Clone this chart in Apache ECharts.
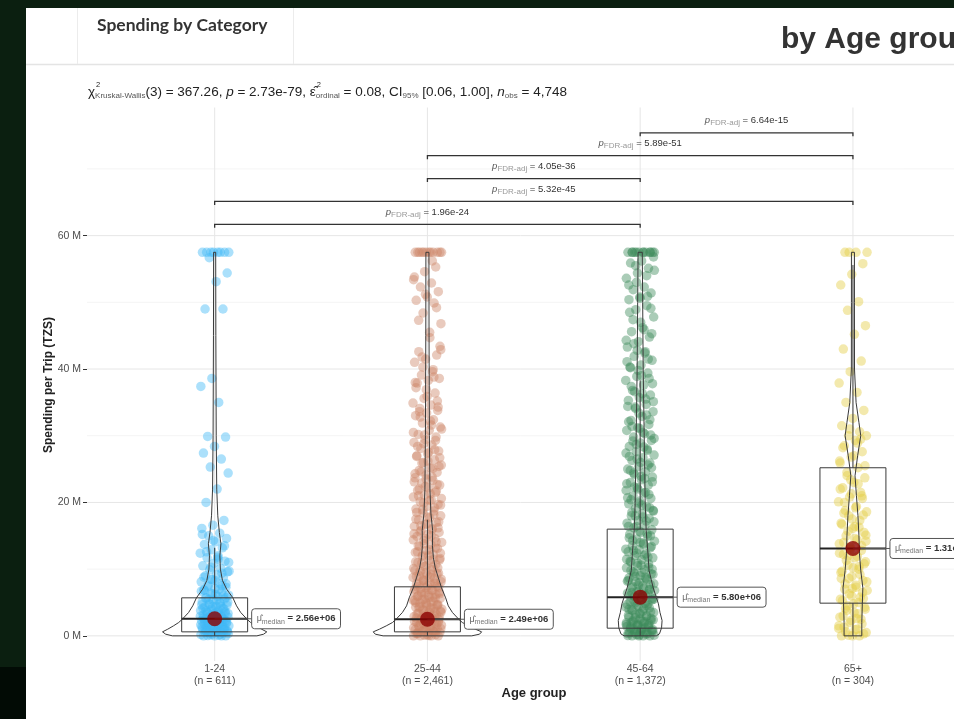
<!DOCTYPE html>
<html>
<head>
<meta charset="utf-8">
<title>Spending per Trip by Age group</title>
<script src="https://cdn.jsdelivr.net/npm/echarts@6/dist/echarts.min.js"></script>
<style>
  html, body { margin: 0; padding: 0; background: #0b1f10; }
  #chart { width: 954px; height: 719px; }
</style>
</head>
<body>
<div id="chart"></div>
<script>
// ---------------- data (spending values in millions of TZS) ----------------
const ageGroups = ['1-24', '25-44', '45-64', '65+'];
const groupCounts = ['611', '2,461', '1,372', '304'];

const medianSpend = [2.56, 2.49, 5.80, 13.1];
const lowerQuartile = [0.6, 0.6, 1.15, 4.9];
const upperQuartile = [5.7, 7.35, 16.0, 25.2];
const lowerWhisker = [0, 0, 0, 0];
const upperWhisker = [13.2, 17.4, 38.3, 55.6];

const spend1to24 = [57.5,57.5,57.5,57.5,57.5,57.5,57.5,57.5,56.7,54.4,53.1,49.0,49.0,38.6,37.4,35.0,29.9,29.8,28.4,27.4,26.5,25.3,24.4,22.0,20.0,17.3,16.6,16.1,15.4,15.0,14.6,14.1,13.7,13.2,12.9,12.4,12.0,11.7,11.2,10.9,10.5,10.1,9.9,9.6,9.2,9.0,8.7,8.4,8.1,7.9,7.6,7.3,7.1,6.9,6.6,6.4,6.1,5.9,5.7,5.5,5.3,5.1,4.9,4.8,4.6,4.4,4.3,4.1,4.0,3.8,3.7,3.5,3.4,3.3,3.1,3.0,2.9,2.8,2.7,2.6,2.5,2.4,2.3,2.2,2.1,2.0,1.9,1.8,1.7,1.6,1.5,1.4,1.3,1.2,1.1,1.0,0.9,0.8,0.7,0.6,0.5,0.4,0.3,0.2,0.1,0.05,0,0,0,0,
  0.15,0.35,0.55,0.75,0.95,1.15,1.35,1.55,1.75,1.95,2.15,2.35,2.55,2.75,2.95,3.2,3.45,3.65,3.9,4.15,4.45,4.75,5.05,5.35,5.65,6.0,6.3,6.7,7.0,7.4,7.8,8.3,8.8,9.4,10.3,11.0,11.8,12.6,13.5,14.3,15.2,
  0.25,0.45,0.65,0.85,1.05,1.25,1.45,1.65,1.85,2.05,2.25,2.45,2.65,2.85,3.05,3.35,3.55,3.75,4.05,4.35,4.65,5.0,5.45,5.8,6.2,6.8,7.5,8.5,9.7,11.5];
const spend25to44 = [57.5,57.5,57.5,57.5,57.5,57.5,57.5,57.5,57.5,57.5,57.5,57.5,55.3,54.6,53.4,52.9,52.3,51.6,50.8,50.3,49.9,48.4,46.8,44.7,42.6,42.1,41.5,41.0,39.6,39.1,38.6,38.3,37.9,36.4,35.6,34.9,34.6,34.1,33.8,33.4,33.0,32.4,31.9,31.3,30.8,30.2,29.8,29.4,29.0,28.6,28.1,27.7,27.3,26.9,26.4,26.0,25.6,25.2,24.8,24.5,24.1,23.7,23.3,22.9,22.6,22.2,21.8,21.5,21.1,20.8,20.4,20.1,19.7,19.4,19.0,18.7,18.4,18.0,17.7,17.4,17.0,16.7,16.4,16.1,15.8,15.5,15.2,14.9,14.6,14.3,14.0,13.7,13.4,13.1,12.8,12.5,12.2,11.9,11.6,11.3,11.0,10.7,10.4,10.1,9.9,9.6,9.4,9.1,8.9,8.6,8.4,8.1,7.9,7.7,7.4,7.2,7.0,6.8,6.5,6.3,6.1,5.9,5.7,5.5,5.3,5.1,4.9,4.7,4.5,4.3,4.1,3.9,3.7,3.5,3.4,3.2,3.0,2.9,2.7,2.5,2.4,2.2,2.0,1.9,1.7,1.6,1.4,1.3,1.1,1.0,0.9,0.7,0.6,0.5,0.4,0.3,0.2,0.1,0,0,0,0,
  0.15,0.35,0.55,0.8,1.05,1.25,1.5,1.75,1.95,2.15,2.35,2.6,2.8,3.1,3.3,3.6,3.8,4.0,4.2,4.4,4.6,4.8,5.0,5.2,5.4,5.6,5.8,6.0,6.2,6.4,6.6,6.9,7.1,7.3,7.5,7.8,8.0,8.3,8.5,8.8,9.0,9.3,9.5,9.8,
  10.3,10.9,11.4,12.0,12.6,13.2,13.8,14.4,15.0,15.6,16.2,16.8,17.5,18.2,18.9,19.6,20.3,21.0,21.7,22.4,23.1,23.8,24.6,25.4,26.2,27.0,27.9,28.8,
  31.0,32.2,33.6,35.2,36.9,38.0,39.9,41.8,43.4,
  0.05,0.45,0.65,0.95,1.2,1.45,1.85,2.05,2.45,2.65,2.95,3.25,3.55,3.85,4.25,4.55,4.95,5.35,5.75,6.15,6.55,6.95,7.35,7.85,8.25,8.75,9.25,9.75,10.2,10.6,11.1,11.5,12.1,12.4,12.9,13.5,14.1,14.6,15.3,15.9,16.5,17.1,17.8,18.5,19.2,19.9,20.6,21.3,22.0,22.7,23.5,24.3,25.1,25.9,26.7,27.5,28.4,29.3,30.1,30.5,31.6,32.8,34.3,35.9,37.2,38.8,40.3,42.9,45.5,47.3,49.2,51.2,53.8,56.2];
const spend45to64 = [57.5,57.5,57.5,57.5,57.5,57.5,57.5,57.5,57.5,57.5,56.2,55.9,55.1,54.4,53.6,52.3,51.9,51.4,50.6,50.4,49.5,48.9,47.8,46.2,45.6,44.8,44.1,43.3,42.6,41.9,41.3,40.6,40.3,39.4,38.9,38.3,37.6,36.8,36.1,35.7,35.3,34.7,34.3,33.6,32.9,32.3,31.7,31.2,30.8,30.3,29.8,29.3,28.9,28.4,28.0,27.6,27.1,26.7,26.3,25.9,25.4,25.0,24.6,24.2,23.8,23.4,23.0,22.6,22.2,21.8,21.4,21.0,20.6,20.2,19.8,19.4,19.1,18.7,18.3,18.0,17.6,17.3,16.9,16.6,16.2,15.9,15.5,15.2,14.9,14.5,14.2,13.9,13.5,13.2,12.9,12.6,12.3,12.0,11.7,11.4,11.1,10.8,10.5,10.2,9.9,9.6,9.3,9.0,8.7,8.4,8.1,7.8,7.5,7.2,6.9,6.7,6.4,6.1,5.9,5.6,5.3,5.1,4.8,4.6,4.3,4.1,3.8,3.6,3.3,3.1,2.9,2.7,2.4,2.2,2.0,1.8,1.6,1.4,1.2,1.0,0.8,0.6,0.5,0.3,0.2,0.1,0,0,0,0,
  0.05,0.25,0.45,0.7,0.9,1.1,1.3,1.5,1.7,1.9,2.1,2.3,2.5,2.8,3.0,3.2,3.5,3.7,3.9,4.2,4.4,4.7,4.9,5.2,5.4,5.7,6.0,6.3,6.6,6.8,7.1,7.4,7.7,8.0,8.3,8.6,8.9,9.2,9.5,9.8,10.3,10.9,11.5,12.1,12.8,13.4,14.0,14.7,15.3,
  16.4,17.1,17.8,18.5,19.2,19.9,20.7,21.5,22.3,23.1,23.9,24.8,25.6,26.5,27.4,28.3,29.2,30.1,31.1,32.1,33.1,34.1,35.1,36.3,37.4,38.6,39.8,41.1,42.4,43.8,45.3,47.0,48.5,50.9,53.0,54.8,57.5,57.5,57.5,
  0.15,0.35,0.55,0.75,0.95,1.15,1.35,1.55,1.75,1.95,2.15,2.35,2.6,3.4,4.0,4.5,5.0,5.5,6.2,6.5,7.0,7.6,8.2,8.8,9.4,10.0,10.6,11.2,11.8,12.4,13.0,13.7,14.3,15.0,15.7,16.4,17.2,18.0,18.8,19.6,20.4,21.2,22.0,22.8,23.6,24.4,25.2,26.0,26.9,27.8,28.7,29.6,30.5,31.4,32.4,33.4,34.4,35.5,36.6,37.8,39.0,40.2,41.5,42.8,44.3,45.9,47.4,49.1,50.8,52.6,54.0,55.5,56.8];
const spend65plus = [57.5,57.5,57.5,57.5,55.8,54.2,52.6,50.1,48.8,46.5,45.2,43.0,41.2,39.6,37.9,36.5,35.0,33.8,32.6,31.5,30.6,30.0,30.0,29.3,28.5,27.6,26.8,25.9,25.2,24.5,23.7,23.0,22.2,21.5,20.8,20.1,19.4,18.8,18.1,17.5,16.9,16.3,15.7,15.1,14.6,14.0,13.5,13.0,12.4,11.9,11.3,10.8,10.2,9.7,9.2,8.6,8.1,7.6,7.0,6.5,6.0,5.5,5.0,4.5,4.0,3.5,3.0,2.5,2.0,1.5,1.0,0.6,0.3,0,0,0,
  0.1,0.5,0.9,1.3,1.8,2.3,2.8,3.3,3.8,4.3,4.8,5.3,5.8,6.3,6.8,7.3,7.8,8.3,8.9,9.5,10.0,10.6,11.1,11.7,12.2,12.8,13.3,13.8,14.4,15.0,15.5,16.1,16.7,17.3,18.0,18.6,19.2,20.0,20.6,21.3,22.0,22.8,24.0,25.5,27.0,28.2,29.5,31.0,
  1.1,2.6,4.1,5.6,7.1,8.6,10.4,12.0,14.2,16.4,18.4,21.0,23.4,26.2,28.9];
const groupSpend = [spend1to24, spend25to44, spend45to64, spend65plus];

// kernel density outline per group: [spend, relative density]
const density1to24 = [[0,0.81],[0.25,0.94],[0.6,1.0],[1.0,0.9],[1.5,0.79],[2.0,0.69],[2.5,0.62],[3.5,0.5],[4.5,0.42],[5.7,0.35],[7,0.23],[8.3,0.15],[10,0.11],[12,0.1],[13.8,0.12],[15.5,0.09],[18,0.06],[22,0.04],[30,0.03],[45,0.023],[57.5,0.02]];
const density25to44 = [[0,0.85],[0.25,1.0],[0.6,1.04],[1.0,0.92],[1.5,0.79],[2.0,0.67],[2.5,0.6],[3.5,0.48],[4.5,0.4],[5.7,0.35],[7.2,0.27],[8.7,0.21],[10.2,0.15],[11.7,0.115],[13.5,0.096],[15.8,0.1],[18.3,0.067],[22,0.048],[30,0.038],[45,0.031],[57.5,0.029]];
const density45to64 = [[0,0.31],[0.3,0.37],[1.2,0.41],[2.3,0.42],[3.5,0.38],[4.8,0.35],[6,0.3],[7.2,0.25],[8.5,0.21],[9.8,0.17],[12.3,0.15],[15.8,0.115],[20,0.096],[25,0.087],[30,0.077],[40,0.058],[50,0.048],[57.5,0.04]];
const density65plus = [[0,0.17],[2,0.17],[4.8,0.18],[7.2,0.19],[9.8,0.15],[12.3,0.125],[15,0.115],[18,0.096],[21,0.067],[24,0.04],[27,0.09],[30,0.15],[32,0.115],[35,0.06],[40,0.03],[50,0.029],[57.5,0.029]];
const groupDensity = [density1to24, density25to44, density45to64, density65plus];

// Kruskal-Wallis summary
const kwStatistic = '367.26';
const kwDf = '3';
const kwP = '2.73e-79';
const epsilonSq = '0.08';
const epsilonCI = '[0.06, 1.00]';
const nObs = '4,748';

// Dunn pairwise comparisons (FDR adjusted)
const pairwiseGroups = [[0, 2], [0, 3], [1, 2], [1, 3], [2, 3]];
const pairwiseP = ['1.96e-24', '5.32e-45', '4.05e-36', '5.89e-51', '6.64e-15'];

// ---------------- styling ----------------
const FONT = '"Liberation Sans", Arial, sans-serif';
const pointColors = ['rgba(63,184,245,0.55)', 'rgba(204,134,104,0.55)', 'rgba(61,138,90,0.55)', 'rgba(227,204,69,0.55)'];
const JITTER = 0.068;        // half-width of point jitter (x units)
const BOX_HALF = 0.155;      // half-width of boxes (x units)
const VIOLIN_SCALE = 0.245;  // x units for relative density 1
const bracketBase = 61.7, bracketStep = 3.43;

const mctx = document.createElement('canvas').getContext('2d');
function fontStr(p) {
  return (p.italic ? 'italic ' : '') + (p.bold ? 'bold ' : '') + p.size + 'px ' + FONT;
}
function pieceWidth(p) { mctx.font = fontStr(p); return mctx.measureText(p.t).width; }
function runWidth(pieces) { return pieces.reduce((s, p) => s + (p.noAdvance ? 0 : pieceWidth(p)), 0); }
// lays text pieces (with sub/superscripts) left to right along a middle line
function runPieces(pieces, x0, y0, color) {
  let x = x0;
  const children = [];
  pieces.forEach(p => {
    children.push({
      type: 'text', x: x + (p.dx || 0), y: y0 + (p.dy || 0), silent: true,
      style: { text: p.t, font: fontStr(p), fill: p.color || color,
               textAlign: 'left', align: 'left', textVerticalAlign: 'middle', verticalAlign: 'middle' }
    });
    if (!p.noAdvance) x += pieceWidth(p);
  });
  return { children, width: x - x0 };
}
function sci(v) {
  return v.toExponential(2).replace(/e([+-])(\d)$/, 'e$10$2');
}
function jitter(i) {
  return (((i * 0.6180339887 + 0.37) % 1) * 2 - 1) * JITTER;
}

// ---------------- series renderers ----------------
function renderGridLines(params, api) {
  const cs = params.coordSys;
  const children = [];
  for (let v = 0; v <= 70; v += 10) {
    const y = api.coord([1, v])[1];
    const major = v % 20 === 0;
    children.push({ type: 'line', silent: true,
      shape: { x1: cs.x, y1: y, x2: cs.x + cs.width, y2: y },
      style: { stroke: major ? '#e6e6e6' : '#f1f1f1', lineWidth: major ? 1 : 0.8 } });
  }
  for (let g = 1; g <= ageGroups.length; g++) {
    const x = api.coord([g, 0])[0];
    children.push({ type: 'line', silent: true,
      shape: { x1: x, y1: cs.y, x2: x, y2: cs.y + cs.height },
      style: { stroke: '#e6e6e6', lineWidth: 1 } });
  }
  return { type: 'group', children };
}

function renderBox(params, api) {
  const i = params.dataIndex, cx = i + 1;
  const tl = api.coord([cx - BOX_HALF, upperQuartile[i]]);
  const br = api.coord([cx + BOX_HALF, lowerQuartile[i]]);
  const med = api.coord([cx, medianSpend[i]]);
  const wt = api.coord([cx, upperWhisker[i]]);
  const wb = api.coord([cx, lowerWhisker[i]]);
  const stroke = '#3a3a3a';
  return { type: 'group', silent: true, children: [
    { type: 'rect', shape: { x: tl[0], y: tl[1], width: br[0] - tl[0], height: br[1] - tl[1] },
      style: { fill: 'none', stroke, lineWidth: 1 } },
    { type: 'line', shape: { x1: wt[0], y1: wt[1], x2: wt[0], y2: tl[1] }, style: { stroke, lineWidth: 1 } },
    { type: 'line', shape: { x1: wb[0], y1: wb[1], x2: wb[0], y2: br[1] }, style: { stroke, lineWidth: 1 } },
    { type: 'line', shape: { x1: tl[0], y1: med[1], x2: br[0], y2: med[1] }, style: { stroke: '#222', lineWidth: 2 } }
  ] };
}

function renderViolin(params, api) {
  const i = params.dataIndex, cx = i + 1;
  const prof = groupDensity[i];
  const right = prof.map(([v, d]) => api.coord([cx + d * VIOLIN_SCALE, v]));
  const left = prof.slice().reverse().map(([v, d]) => api.coord([cx - d * VIOLIN_SCALE, v]));
  return { type: 'polygon', silent: true,
    shape: { points: right.concat(left) },
    style: { fill: 'none', stroke: '#3a3a3a', lineWidth: 1, lineJoin: 'round' } };
}

function renderMedianLabel(params, api) {
  const i = params.dataIndex;
  const p = api.coord([i + 1, medianSpend[i]]);
  const pieces = [
    { t: 'μ̂', size: 9, color: '#666' },
    { t: 'median', size: 7, dy: 3, color: '#777' },
    { t: ' = ' + sci(medianSpend[i] * 1e6), size: 9.5, bold: true, color: '#333' }
  ];
  const left = p[0] + 37;
  const run = runPieces(pieces, left + 5, p[1], '#333');
  return { type: 'group', silent: true, children: [
    { type: 'line', shape: { x1: p[0], y1: p[1], x2: left, y2: p[1] }, style: { stroke: '#555', lineWidth: 1 } },
    { type: 'rect', shape: { x: left, y: p[1] - 10, width: run.width + 10, height: 20, r: 3 },
      style: { fill: '#fff', stroke: '#555', lineWidth: 1 } }
  ].concat(run.children) };
}

function renderBracket(params, api) {
  const k = params.dataIndex;
  const [a, b] = pairwiseGroups[k];
  const level = bracketBase + k * bracketStep;
  const pa = api.coord([a + 1, level]);
  const pb = api.coord([b + 1, level]);
  const tip = 3.5;
  const pieces = [
    { t: 'p', size: 9.5, italic: true, color: '#555' },
    { t: 'FDR-adj', size: 8, dy: 2.5, color: '#999' },
    { t: ' = ' + pairwiseP[k], size: 9.5, color: '#333' }
  ];
  const w = runWidth(pieces);
  const run = runPieces(pieces, (pa[0] + pb[0]) / 2 - w / 2, pa[1] - 12, '#333');
  return { type: 'group', silent: true, children: [
    { type: 'polyline', shape: { points: [[pa[0], pa[1] + tip], [pa[0], pa[1]], [pb[0], pb[1]], [pb[0], pb[1] + tip]] },
      style: { fill: 'none', stroke: '#333', lineWidth: 1.3 } }
  ].concat(run.children) };
}

// ---------------- header / subtitle graphics ----------------
const subtitlePieces = [
  { t: 'χ', size: 13.5 },
  { t: '2', size: 7.5, dy: -7, noAdvance: true, dx: 1 },
  { t: 'Kruskal-Wallis', size: 8, dy: 3.5, color: '#555' },
  { t: '(' + kwDf + ') = ' + kwStatistic + ', ', size: 13.5 },
  { t: 'p', size: 13.5, italic: true },
  { t: ' = ' + kwP + ', ', size: 13.5 },
  { t: 'ε̂', size: 13.5 },
  { t: '2', size: 7.5, dy: -7, noAdvance: true, dx: 1 },
  { t: 'ordinal', size: 8, dy: 3.5, color: '#555' },
  { t: ' = ' + epsilonSq + ', CI', size: 13.5 },
  { t: '95%', size: 8, dy: 3.5, color: '#555' },
  { t: ' ' + epsilonCI + ', ', size: 13.5 },
  { t: 'n', size: 13.5, italic: true },
  { t: 'obs', size: 8, dy: 3.5, color: '#555' },
  { t: ' = ' + nObs, size: 13.5 }
];
const subtitle = runPieces(subtitlePieces, 88, 92, '#222');

const graphics = [
  // frame around the report page
  { type: 'rect', z: 100, silent: true, shape: { x: 0, y: 0, width: 954, height: 8 }, style: { fill: '#0b1f10' } },
  { type: 'rect', z: 100, silent: true, shape: { x: 0, y: 0, width: 26, height: 667 }, style: { fill: '#0b1f10' } },
  { type: 'rect', z: 100, silent: true, shape: { x: 0, y: 667, width: 26, height: 52 }, style: { fill: '#020b05' } },
  // header with tab
  { type: 'line', silent: true, shape: { x1: 26, y1: 64.5, x2: 954, y2: 64.5 }, style: { stroke: '#e4e4e4', lineWidth: 1.5 } },
  { type: 'line', silent: true, shape: { x1: 77.5, y1: 8, x2: 77.5, y2: 64 }, style: { stroke: '#ececec', lineWidth: 1 } },
  { type: 'line', silent: true, shape: { x1: 293.5, y1: 8, x2: 293.5, y2: 64 }, style: { stroke: '#ececec', lineWidth: 1 } },
  { type: 'text', x: 97, y: 25, silent: true,
    style: { text: 'Spending by Category', font: 'bold 17.5px Lato, "Open Sans", sans-serif', fill: '#333',
             textVerticalAlign: 'middle', verticalAlign: 'middle' } },
  { type: 'text', x: 781, y: 40, silent: true,
    style: { text: 'by Age group', font: 'bold 30px ' + FONT, fill: '#333',
             textVerticalAlign: 'middle', verticalAlign: 'middle' } },
  { type: 'group', silent: true, children: subtitle.children },
  // axis titles
  { type: 'text', x: 49, y: 385, rotation: Math.PI / 2, silent: true,
    style: { text: 'Spending per Trip (TZS)', font: 'bold 12px ' + FONT, fill: '#222',
             textAlign: 'center', align: 'center', textVerticalAlign: 'middle', verticalAlign: 'middle' } },
  { type: 'text', x: 534, y: 693, silent: true,
    style: { text: 'Age group', font: 'bold 13px ' + FONT, fill: '#222',
             textAlign: 'center', align: 'center', textVerticalAlign: 'middle', verticalAlign: 'middle' } }
];

// ---------------- chart ----------------
const chart = echarts.init(document.getElementById('chart'), null, { renderer: 'canvas' });

const pointSeries = groupSpend.map((vals, g) => ({
  type: 'scatter',
  name: ageGroups[g],
  z: 2,
  silent: true,
  symbolSize: 9.5,
  itemStyle: { color: pointColors[g] },
  data: vals.map((v, i) => [g + 1 + jitter(i), v])
}));

const option = {
  backgroundColor: '#ffffff',
  animation: false,
  graphic: graphics,
  grid: { left: 87, right: 0, top: 107.5, bottom: 58, containLabel: false },
  xAxis: {
    type: 'value', min: 0.4, max: 4.475,
    axisLine: { show: false },
    splitLine: { show: false },
    axisTick: { show: true, customValues: [1, 2, 3, 4], length: 3, lineStyle: { color: '#333' } },
    axisLabel: {
      customValues: [1, 2, 3, 4], margin: 2,
      formatter: v => ageGroups[Math.round(v) - 1] + '\n(n = ' + groupCounts[Math.round(v) - 1] + ')',
      color: '#4d4d4d', fontSize: 10.5, lineHeight: 12, fontFamily: FONT
    }
  },
  yAxis: {
    type: 'value', min: -3.77, max: 79.21,
    axisLine: { show: false },
    splitLine: { show: false },
    axisTick: { show: true, customValues: [0, 20, 40, 60], length: 4, lineStyle: { color: '#333' } },
    axisLabel: {
      customValues: [0, 20, 40, 60], margin: 6,
      formatter: v => v + ' M', color: '#4d4d4d', fontSize: 10.5, fontFamily: FONT
    }
  },
  series: [
    { type: 'custom', name: 'grid lines', z: 1, silent: true, renderItem: renderGridLines, data: [[1, 0]] },
    ...pointSeries,
    { type: 'custom', name: 'box', z: 3, silent: true, renderItem: renderBox,
      data: ageGroups.map((_, i) => [i + 1, medianSpend[i]]) },
    { type: 'custom', name: 'violin', z: 4, silent: true, renderItem: renderViolin,
      data: ageGroups.map((_, i) => [i + 1, medianSpend[i]]) },
    { type: 'custom', name: 'median label', z: 5, silent: true, renderItem: renderMedianLabel,
      data: ageGroups.map((_, i) => [i + 1, medianSpend[i]]) },
    { type: 'scatter', name: 'median', z: 6, silent: true, symbolSize: 15,
      itemStyle: { color: '#8b0000' },
      data: medianSpend.map((m, i) => [i + 1, m]) },
    { type: 'custom', name: 'pairwise', z: 6, silent: true, renderItem: renderBracket,
      data: pairwiseGroups.map(([a, b], k) => [(a + b) / 2 + 1, bracketBase + k * bracketStep]) }
  ]
};
chart.setOption(option);
</script>
</body>
</html>
